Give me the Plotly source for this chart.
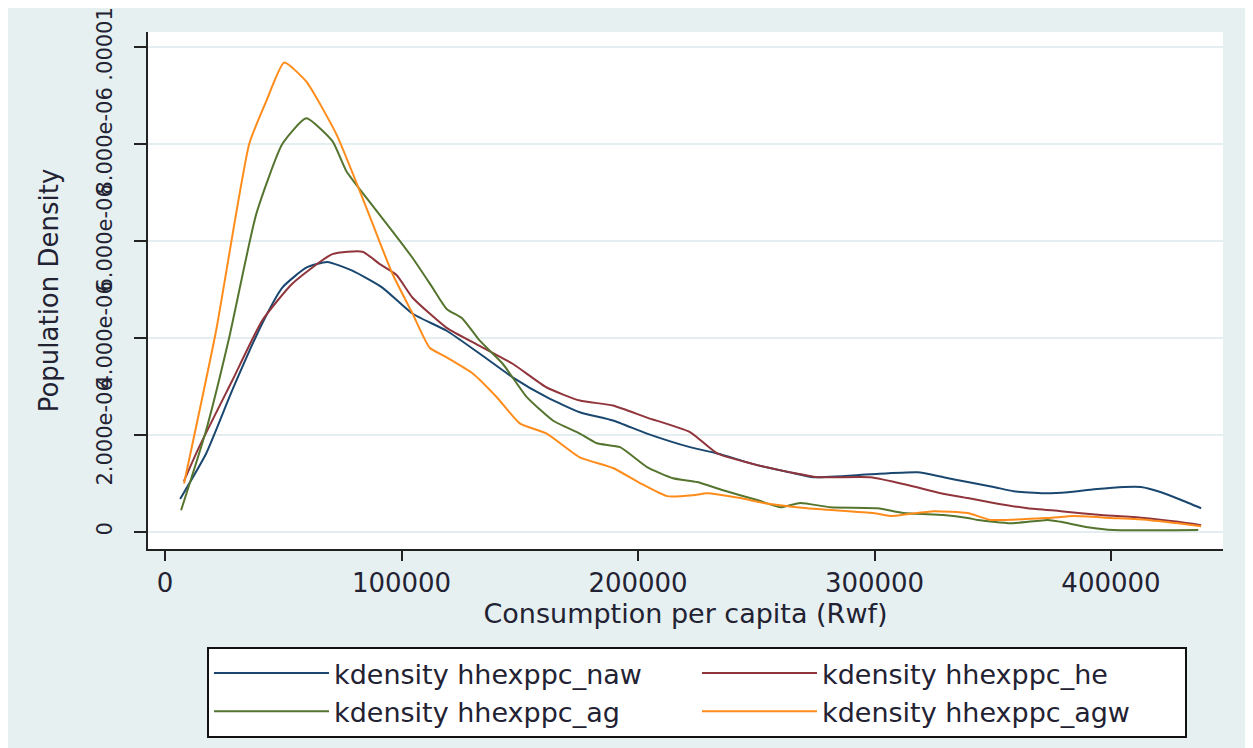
import numpy as np
import plotly.graph_objects as go

# ---- data (x in Rwf, density in units of 1e-6) ----
naw_x = [6400, 17400, 28400, 41100, 49600, 59700, 68600, 79200, 91900, 104700, 119100, 133000,
         147000, 161400, 175400, 189400, 203800, 222000, 233500, 250400, 264400, 274200, 298300,
         318200, 329200, 339400, 350400, 358900, 371600, 381800, 392800, 405500, 412700, 421200,
         429700, 438100]
naw_y = [0.68, 1.62, 2.92, 4.30, 5.04, 5.45, 5.57, 5.39, 5.04, 4.50, 4.15, 3.68,
         3.19, 2.78, 2.47, 2.30, 2.03, 1.75, 1.62, 1.38, 1.23, 1.13, 1.19,
         1.23, 1.13, 1.03, 0.93, 0.84, 0.80, 0.82, 0.88, 0.93, 0.93, 0.82,
         0.66, 0.49]

he_x = [8000, 14400, 28400, 41100, 53800, 70800, 83500, 90700, 97900, 104700, 119100, 133000,
        147000, 161400, 175400, 189400, 203800, 222000, 233500, 250400, 264400, 275800, 298300,
        314000, 328000, 339400, 350400, 364800, 378800, 395800, 414000, 428400, 438100]
he_y = [1.05, 1.75, 3.12, 4.36, 5.12, 5.73, 5.78, 5.53, 5.30, 4.83, 4.21, 3.84,
        3.47, 2.98, 2.71, 2.61, 2.36, 2.06, 1.62, 1.38, 1.23, 1.13, 1.13,
        0.97, 0.80, 0.70, 0.60, 0.49, 0.43, 0.35, 0.29, 0.21, 0.14]

ag_x = [6800, 17400, 27100, 38600, 49600, 59700, 70800, 76700, 85200, 96200, 104700, 113100,
        119100, 125800, 133000, 142800, 153000, 164000, 175400, 182600, 192400, 203800, 214800,
        225000, 236000, 250400, 260200, 268600, 281400, 301300, 312300, 329200, 339400, 343600,
        357600, 373300, 378800, 390200, 401300, 436900]
ag_y = [0.45, 2.10, 4.00, 6.56, 8.00, 8.53, 8.06, 7.44, 6.89, 6.20, 5.65, 5.04,
        4.60, 4.40, 3.95, 3.47, 2.78, 2.30, 2.03, 1.83, 1.75, 1.34, 1.11,
        1.03, 0.86, 0.66, 0.51, 0.60, 0.51, 0.49, 0.39, 0.35, 0.29, 0.25,
        0.18, 0.25, 0.21, 0.10, 0.04, 0.04]

agw_x = [8050, 21600, 35600, 42800, 50400, 59700, 72500, 85200, 90700, 96200, 104700, 111900,
         119100, 130100, 140300, 150000, 161400, 175400, 189400, 200800, 212300, 223300, 229200,
         243200, 253000, 271600, 299600, 306800, 325000, 339400, 349200, 373300, 384300, 400000,
         415700, 428400, 438100]
agw_y = [1.00, 4.15, 8.00, 8.88, 9.68, 9.29, 8.20, 6.68, 5.99, 5.32, 4.50, 3.80,
         3.60, 3.27, 2.78, 2.24, 2.03, 1.54, 1.32, 1.01, 0.74, 0.76, 0.80,
         0.70, 0.60, 0.49, 0.39, 0.33, 0.43, 0.39, 0.25, 0.29, 0.33, 0.29,
         0.25, 0.18, 0.12]

series_names = ["kdensity hhexppc_naw", "kdensity hhexppc_he",
                "kdensity hhexppc_ag", "kdensity hhexppc_agw"]
series_colors = ["#1a476f", "#90353b", "#55752f", "#ff8c1a"]

x_tickvals = [0, 100000, 200000, 300000, 400000]
x_ticktext = ["0", "100000", "200000", "300000", "400000"]
y_tickvals = [0, 2e-6, 4e-6, 6e-6, 8e-6, 1e-5]
y_ticktext = ["0", "2.000e-06", "4.000e-06", "6.000e-06", "8.000e-06", ".00001"]

SCALE = 1e-6
BG = "#E6F0F1"
TXT = "#222233"
FONT = "DejaVu Sans"

# page body has an 8px margin, so the figure is 8px smaller each way
W, H = 1245, 740

fig = go.Figure()
for xs, ys, name, col in zip([naw_x, he_x, ag_x, agw_x], [naw_y, he_y, ag_y, agw_y],
                             series_names, series_colors):
    fig.add_trace(go.Scatter(x=xs, y=np.array(ys) * SCALE, mode="lines", name=name,
                             line=dict(color=col, width=2, shape="spline", smoothing=0.5)))

fig.update_layout(
    width=W, height=H, autosize=False,
    margin=dict(l=140, r=30, t=24, b=199),
    paper_bgcolor=BG, plot_bgcolor="white",
    font=dict(family=FONT, color=TXT, size=26),
    showlegend=True,
    legend=dict(
        orientation="h", xref="container", yref="container",
        x=199 / W, y=1 - 639 / H, xanchor="left", yanchor="top",
        bgcolor="white", bordercolor="#111111", borderwidth=2,
        font=dict(family=FONT, size=27, color=TXT),
        itemwidth=115, entrywidth=358, entrywidthmode="pixels",
        traceorder="normal",
    ),
    xaxis=dict(
        range=[-7190, 447360], tickvals=x_tickvals, ticktext=x_ticktext,
        automargin=False,
        showgrid=False, zeroline=False,
        showline=True, linecolor="#222222", linewidth=2,
        ticks="outside", ticklen=10, tickwidth=2, tickcolor="#222222",
        tickfont=dict(family=FONT, size=26, color=TXT),
        title=dict(text="Consumption per capita (Rwf)", standoff=6,
                   font=dict(family=FONT, size=27, color=TXT)),
    ),
    yaxis=dict(
        range=[-0.35e-6, 10.31e-6], tickvals=y_tickvals, ticktext=y_ticktext,
        automargin=False,
        showgrid=True, gridcolor="#E4EEF0", gridwidth=2, zeroline=False,
        showline=True, linecolor="#222222", linewidth=2,
        ticks="outside", ticklen=12, tickwidth=2, tickcolor="#222222",
        tickangle=-90, ticklabelstandoff=14, ticklabeloverflow="allow",
        tickfont=dict(family=FONT, size=21, color=TXT),
        title=dict(text="Population Density", standoff=26,
                   font=dict(family=FONT, size=26, color=TXT)),
    ),
)

fig.write_html("out.html")
